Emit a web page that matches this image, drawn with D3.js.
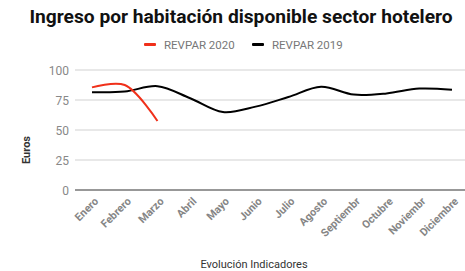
<!DOCTYPE html>
<html>
<head>
<meta charset="utf-8">
<script src="https://cdn.jsdelivr.net/npm/d3@7"></script>
<style>
  body { margin: 0; background: #fff; }
  svg { display: block; font-family: Roboto, sans-serif; }
</style>
</head>
<body>
<svg id="chart" width="465" height="271"></svg>
<script>
const months = ['Enero', 'Febrero', 'Marzo', 'Abril', 'Mayo', 'Junio', 'Julio', 'Agosto', 'Septiembr', 'Octubre', 'Noviembr', 'Diciembre']
const revpar2020 = [85.5, 87.5, 57.5]
const revpar2019 = [81.5, 82, 86.5, 76.5, 65, 69.5, 77.5, 86, 79.5, 80.5, 84.5, 83.5]
const yTicks = [0, 25, 50, 75, 100]

const svg = d3.select('#chart')
const width = 465, height = 271
const margin = { top: 70, right: 0, bottom: 81, left: 75 }
const contentWidth = width - margin.left - margin.right
const contentHeight = height - margin.top - margin.bottom

const g = svg.append('g').attr('transform', `translate(${margin.left},${margin.top})`)

const x = d3.scalePoint().domain(months).range([17, 377])
const y = d3.scaleLinear().domain([0, 100]).range([contentHeight, 0])

// title
svg.append('text')
    .attr('x', 241).attr('y', 23)
    .attr('text-anchor', 'middle')
    .style('font-size', '19.2px').style('font-weight', 'bold').style('fill', '#111')
    .text('Ingreso por habitación disponible sector hotelero')

// legend
const legend = [
    { name: 'REVPAR 2020', color: '#f0301a', x: 144 },
    { name: 'REVPAR 2019', color: '#000', x: 252 }
]
legend.forEach(d => {
    svg.append('rect').attr('x', d.x).attr('y', 43).attr('width', 12).attr('height', 3)
        .attr('rx', 1).style('fill', d.color)
    svg.append('text').attr('x', d.x + 20).attr('y', 48.5)
        .style('font-size', '11.5px').style('fill', '#777').text(d.name)
})

// gridlines + y labels
g.selectAll('.grid').data(yTicks.filter(t => t > 0)).enter().append('line')
    .attr('x1', 0).attr('x2', contentWidth)
    .attr('y1', d => y(d)).attr('y2', d => y(d))
    .style('stroke', '#e0e0e0').style('stroke-width', 1.5)
g.append('line').attr('x1', 0).attr('x2', contentWidth)
    .attr('y1', y(0)).attr('y2', y(0)).style('stroke', '#333').style('stroke-width', 1.2)
g.selectAll('.ylab').data(yTicks).enter().append('text')
    .attr('x', -6).attr('y', d => y(d) + 4.5)
    .attr('text-anchor', 'end')
    .style('font-size', '12px').style('fill', '#888')
    .text(d => d)

// y title
svg.append('text')
    .attr('transform', `translate(30,${150}) rotate(-90)`)
    .attr('text-anchor', 'middle')
    .style('font-size', '11px').style('font-weight', 'bold').style('fill', '#333')
    .text('Euros')

// x labels
g.selectAll('.xlab').data(months).enter().append('text')
    .attr('transform', d => `translate(${x(d) + 7},${contentHeight + 12}) rotate(-45)`)
    .attr('text-anchor', 'end')
    .style('font-size', '10.8px').style('font-weight', 'bold').style('fill', '#858585')
    .text(d => d)

// x title
svg.append('text')
    .attr('x', 254).attr('y', 268)
    .attr('text-anchor', 'middle')
    .style('font-size', '11px').style('fill', '#333')
    .text('Evolución Indicadores')

// lines
const line = d3.line()
    .x((d, i) => x(months[i]))
    .y(d => y(d))
    .curve(d3.curveCatmullRom.alpha(0.5))

g.append('path').datum(revpar2019).attr('d', line)
    .style('fill', 'none').style('stroke', '#000').style('stroke-width', 2)
g.append('path').datum(revpar2020).attr('d', line)
    .style('fill', 'none').style('stroke', '#f0301a').style('stroke-width', 2)
</script>
</body>
</html>
